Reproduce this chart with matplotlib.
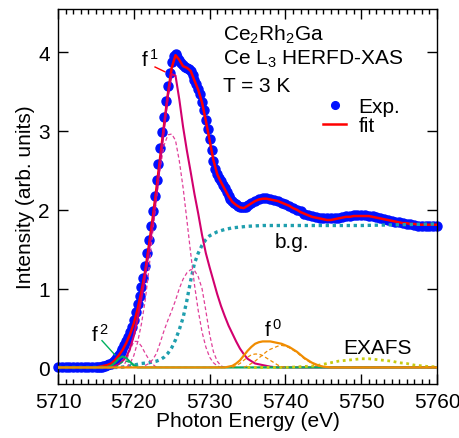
import matplotlib
matplotlib.use('Agg')
import matplotlib.pyplot as plt
from matplotlib.ticker import MultipleLocator

plt.rcParams['font.family'] = ['Liberation Sans', 'DejaVu Sans']
plt.rcParams['mathtext.fontset'] = 'custom'
plt.rcParams['mathtext.rm'] = 'Liberation Sans'
plt.rcParams['mathtext.it'] = 'Liberation Sans:italic'

# experimental data (Exp.)
exp_e = [5710.0, 5710.5, 5711.0, 5711.5, 5712.0, 5712.5, 5713.0, 5713.5, 5714.0, 5714.5,
         5715.0, 5715.25, 5715.5, 5715.75, 5716.0, 5716.25, 5716.5, 5716.75,
         5717.0, 5717.25, 5717.5, 5717.75, 5718.0, 5718.25, 5718.5, 5718.75,
         5719.0, 5719.25, 5719.5, 5719.75, 5720.0, 5720.25, 5720.5, 5720.75,
         5721.0, 5721.25, 5721.5, 5721.75, 5722.0, 5722.25, 5722.5, 5722.75,
         5723.0, 5723.25, 5723.5, 5723.75, 5724.0, 5724.25, 5724.5, 5724.75,
         5725.0, 5725.25, 5725.5, 5725.75, 5726.0, 5726.25, 5726.5, 5726.75,
         5727.0, 5727.25, 5727.5, 5727.75, 5728.0, 5728.25, 5728.5, 5728.75,
         5729.0, 5729.25, 5729.5, 5729.75, 5730.0, 5730.25, 5730.5, 5730.75,
         5731.0, 5731.25, 5731.5, 5731.75, 5732.0, 5732.25, 5732.5, 5732.75,
         5733.0, 5733.25, 5733.5, 5733.75, 5734.0, 5734.25, 5734.5, 5734.75,
         5735.0, 5735.5, 5736.0, 5736.5, 5737.0, 5737.5, 5738.0, 5738.5, 5739.0, 5739.5,
         5740.0, 5740.5, 5741.0, 5741.5, 5742.0, 5742.5, 5743.0, 5743.5, 5744.0, 5744.5,
         5745.0, 5745.5, 5746.0, 5746.5, 5747.0, 5747.5, 5748.0, 5748.5, 5749.0, 5749.5,
         5750.0, 5750.5, 5751.0, 5751.5, 5752.0, 5752.5, 5753.0, 5753.5, 5754.0, 5754.5,
         5755.0, 5755.5, 5756.0, 5756.5, 5757.0, 5757.5, 5758.0, 5758.5, 5759.0, 5759.5,
         5760.0]
exp_i = [0.00, 0.00, 0.00, 0.00, 0.00, 0.00, 0.00, 0.00, 0.00, 0.00,
         0.00, 0.00, 0.01, 0.01, 0.02, 0.02, 0.03, 0.04,
         0.05, 0.07, 0.10, 0.13, 0.16, 0.19, 0.23, 0.28,
         0.33, 0.39, 0.45, 0.51, 0.60, 0.70, 0.80, 0.91,
         1.02, 1.14, 1.29, 1.45, 1.62, 1.80, 1.98, 2.18,
         2.38, 2.58, 2.78, 2.98, 3.18, 3.38, 3.57, 3.74,
         3.87, 3.95, 3.97, 3.94, 3.90, 3.86, 3.83, 3.81,
         3.80, 3.78, 3.76, 3.71, 3.65, 3.59, 3.53, 3.47,
         3.37, 3.26, 3.14, 3.03, 2.90, 2.76, 2.62, 2.52,
         2.45, 2.40, 2.36, 2.31, 2.27, 2.22, 2.18, 2.14,
         2.11, 2.09, 2.07, 2.05, 2.04, 2.03, 2.03, 2.04,
         2.06, 2.08, 2.11, 2.13, 2.15, 2.15, 2.14, 2.12, 2.11, 2.09,
         2.07, 2.05, 2.02, 2.00, 1.98, 1.95, 1.93, 1.92, 1.91, 1.90,
         1.89, 1.89, 1.89, 1.89, 1.90, 1.91, 1.92, 1.92, 1.93, 1.93,
         1.93, 1.93, 1.92, 1.92, 1.91, 1.90, 1.88, 1.87, 1.86, 1.85,
         1.84, 1.83, 1.82, 1.82, 1.81, 1.80, 1.80, 1.80, 1.79, 1.79,
         1.79]

# total fit
fit_e = [5710.0, 5715.0, 5715.5, 5716.0, 5716.5, 5717.0, 5717.5, 5718.0, 5718.5, 5719.0, 5719.5,
         5720.0, 5720.5, 5721.0, 5721.5, 5722.0, 5722.5, 5723.0, 5723.5, 5724.0, 5724.5,
         5725.0, 5725.5, 5726.0, 5726.5, 5727.0, 5727.5, 5728.0, 5728.5, 5729.0, 5729.5,
         5730.0, 5730.5, 5731.0, 5731.5, 5732.0, 5732.5, 5733.0, 5733.5, 5734.0, 5734.5,
         5735.0, 5735.5, 5736.0, 5736.5, 5737.0, 5737.5, 5738.0, 5738.5, 5739.0, 5739.5,
         5740.0, 5740.5, 5741.0, 5741.5, 5742.0, 5742.5, 5743.0, 5743.5, 5744.0, 5744.5,
         5745.0, 5745.5, 5746.0, 5746.5, 5747.0, 5747.5, 5748.0, 5748.5, 5749.0, 5749.5,
         5750.0, 5750.5, 5751.0, 5751.5, 5752.0, 5752.5, 5753.0, 5753.5, 5754.0, 5754.5,
         5755.0, 5755.5, 5756.0, 5756.5, 5757.0, 5757.5, 5758.0, 5758.5, 5759.0, 5759.5,
         5760.0]
fit_i = [0.00, 0.00, 0.01, 0.02, 0.03, 0.05, 0.09, 0.15, 0.22, 0.31, 0.42,
         0.56, 0.74, 0.96, 1.22, 1.55, 1.90, 2.28, 2.68, 3.08, 3.47,
         3.80, 3.96, 3.90, 3.82, 3.80, 3.76, 3.64, 3.52, 3.36, 3.13,
         2.88, 2.63, 2.45, 2.35, 2.26, 2.17, 2.10, 2.06, 2.03, 2.02,
         2.05, 2.08, 2.11, 2.13, 2.14, 2.14, 2.13, 2.12, 2.11, 2.09,
         2.07, 2.05, 2.02, 2.00, 1.97, 1.95, 1.93, 1.91, 1.90, 1.89,
         1.88, 1.87, 1.87, 1.88, 1.89, 1.90, 1.91, 1.91, 1.92, 1.92,
         1.92, 1.92, 1.92, 1.91, 1.90, 1.89, 1.88, 1.87, 1.86, 1.85,
         1.84, 1.83, 1.83, 1.82, 1.82, 1.81, 1.81, 1.81, 1.81, 1.81,
         1.81]

# background (b.g.)
bg_e = [5710, 5718, 5719, 5720, 5721, 5722, 5722.5, 5723, 5723.5, 5724, 5724.5,
        5725, 5725.5, 5726, 5726.5, 5727, 5727.5, 5728, 5728.5, 5729, 5729.5,
        5730, 5731, 5732, 5733, 5734, 5735, 5737, 5740, 5745, 5750, 5755, 5760]
bg_i = [0.00, 0.00, 0.01, 0.03, 0.05, 0.06, 0.07, 0.08, 0.10, 0.13, 0.18,
        0.25, 0.35, 0.48, 0.63, 0.85, 1.10, 1.32, 1.45, 1.55, 1.62,
        1.67, 1.72, 1.75, 1.77, 1.78, 1.79, 1.80, 1.80, 1.80, 1.80, 1.81, 1.82]

# f1 total and its components
f1_e = [5710, 5717, 5717.5, 5718, 5718.5, 5719, 5719.5, 5720, 5720.5, 5721, 5721.5,
        5722, 5722.5, 5723, 5723.5, 5724, 5724.5, 5725, 5725.5, 5726, 5726.5,
        5727, 5727.5, 5728, 5728.5, 5729, 5729.5, 5730, 5730.5, 5731, 5731.5,
        5732, 5732.5, 5733, 5733.5, 5734, 5734.5, 5735, 5735.5, 5736, 5737,
        5738, 5739, 5760]
f1_i = [0.00, 0.00, 0.02, 0.04, 0.08, 0.13, 0.24, 0.40, 0.62, 0.88, 1.17,
        1.48, 1.82, 2.20, 2.62, 3.05, 3.45, 3.72, 3.70, 3.40, 3.05,
        2.75, 2.48, 2.20, 1.95, 1.68, 1.45, 1.27, 1.10, 0.93, 0.78,
        0.65, 0.53, 0.43, 0.33, 0.24, 0.17, 0.11, 0.08, 0.05, 0.03,
        0.01, 0.00, 0.00]
f1a_e = [5710, 5719, 5719.5, 5720, 5720.5, 5721, 5721.5, 5722, 5722.5, 5723, 5723.5,
         5724, 5724.5, 5725, 5725.5, 5726, 5726.5, 5727, 5727.5, 5728, 5728.5,
         5729, 5729.5, 5730, 5730.5, 5731, 5731.5, 5760]
f1a_i = [0.00, 0.00, 0.05, 0.15, 0.32, 0.55, 0.85, 1.25, 1.72, 2.15, 2.55,
         2.82, 2.95, 2.96, 2.88, 2.62, 2.28, 1.87, 1.45, 1.05, 0.72,
         0.45, 0.26, 0.13, 0.06, 0.02, 0.00, 0.00]
f1b_e = [5710, 5721, 5722, 5722.5, 5723, 5723.5, 5724, 5724.5, 5725, 5725.5, 5726,
         5726.5, 5727, 5727.5, 5728, 5728.5, 5729, 5729.5, 5730, 5730.5, 5731,
         5731.5, 5732, 5760]
f1b_i = [0.00, 0.00, 0.05, 0.10, 0.18, 0.32, 0.47, 0.60, 0.72, 0.85, 1.00,
         1.12, 1.20, 1.24, 1.23, 1.15, 1.00, 0.72, 0.42, 0.20, 0.08,
         0.02, 0.00, 0.00]
f1c_e = [5710, 5718.5, 5719, 5719.5, 5720, 5720.5, 5721, 5721.5, 5722, 5722.5, 5723, 5760]
f1c_i = [0.00, 0.00, 0.08, 0.22, 0.33, 0.33, 0.27, 0.18, 0.10, 0.04, 0.00, 0.00]

# f2
f2_e = [5710, 5716.5, 5717, 5717.5, 5718, 5718.5, 5719, 5719.5, 5720, 5720.5, 5760]
f2_i = [0.00, 0.00, 0.02, 0.06, 0.11, 0.14, 0.12, 0.07, 0.03, 0.00, 0.00]
f2a_e = [5717.5, 5718, 5718.5, 5719, 5719.5, 5720, 5720.5]
f2a_i = [0.00, 0.03, 0.07, 0.08, 0.06, 0.02, 0.00]

# f0 total and its components
f0_e = [5710, 5732, 5733, 5733.5, 5734, 5734.5, 5735, 5735.5, 5736, 5736.5, 5737,
        5737.5, 5738, 5738.5, 5739, 5739.5, 5740, 5740.5, 5741, 5741.5, 5742,
        5742.5, 5743, 5743.5, 5744, 5744.5, 5745, 5746, 5760]
f0_i = [0.00, 0.00, 0.02, 0.05, 0.09, 0.15, 0.21, 0.26, 0.30, 0.32, 0.33,
        0.33, 0.33, 0.32, 0.31, 0.30, 0.28, 0.26, 0.23, 0.20, 0.16,
        0.12, 0.09, 0.06, 0.04, 0.02, 0.01, 0.00, 0.00]
f0a_e = [5733, 5734, 5734.5, 5735, 5735.5, 5736, 5736.5, 5737, 5737.5, 5738, 5738.5,
         5739, 5739.5, 5740]
f0a_i = [0.00, 0.05, 0.09, 0.13, 0.16, 0.17, 0.17, 0.15, 0.12, 0.09, 0.06,
         0.03, 0.01, 0.00]
f0b_e = [5734.5, 5735, 5735.5, 5736, 5736.5, 5737, 5737.5, 5738, 5738.5, 5739, 5739.5,
         5740, 5740.5, 5741, 5741.5, 5742, 5742.5, 5743, 5743.5, 5744, 5744.5,
         5745, 5746]
f0b_i = [0.00, 0.02, 0.05, 0.08, 0.12, 0.16, 0.20, 0.23, 0.25, 0.27, 0.28,
         0.27, 0.25, 0.22, 0.19, 0.15, 0.11, 0.08, 0.05, 0.03, 0.02,
         0.01, 0.00]

# EXAFS
exafs_e = [5735, 5740, 5742, 5744, 5745, 5746, 5747, 5748, 5749, 5750, 5751, 5752,
           5753, 5754, 5755, 5756, 5757, 5758, 5759, 5760]
exafs_i = [0.00, 0.00, 0.01, 0.02, 0.04, 0.06, 0.08, 0.09, 0.10, 0.11, 0.11, 0.10,
           0.09, 0.08, 0.06, 0.05, 0.03, 0.02, 0.01, 0.01]

c_f1 = '#d2006e'
c_f1d = '#e0409a'
c_bg = '#1f9fae'
c_f0 = '#f08c00'
c_f2 = '#00b060'
c_ex = '#c8cc10'

fig = plt.figure(figsize=(4.59, 4.39), dpi=100)
ax = fig.add_axes([0.1264, 0.123, 0.8257, 0.855])

ax.plot(exp_e, exp_i, 'o', color='#0010ff', ms=6.5, mec='#0010ff', clip_on=False,
        label='Exp.', zorder=2)
ax.plot(fit_e, fit_i, '-', color='#ff0000', lw=1.8, label='fit', zorder=3)

ax.plot(bg_e, bg_i, color=c_bg, lw=2.4, ls=(0, (1, 1.1)), zorder=4)
ax.plot(f1a_e, f1a_i, color=c_f1d, lw=0.9, ls=(0, (3, 2)), zorder=4)
ax.plot(f1b_e, f1b_i, color=c_f1d, lw=0.9, ls=(0, (3, 2)), zorder=4)
ax.plot(f1c_e, f1c_i, color=c_f1d, lw=0.9, ls=(0, (3, 2)), zorder=4)
ax.plot(f1_e, f1_i, color=c_f1, lw=1.5, zorder=5)
ax.plot(f2a_e, f2a_i, color=c_f2, lw=0.9, ls=(0, (3, 2)), zorder=5)
ax.plot(f2_e, f2_i, color=c_f2, lw=1.5, zorder=5)
ax.plot(exafs_e, exafs_i, color=c_ex, lw=2.0, ls=(0, (1, 1.3)), zorder=5)
ax.plot(f0a_e, f0a_i, color=c_f0, lw=0.9, ls=(0, (3, 2)), zorder=6)
ax.plot(f0b_e, f0b_i, color=c_f0, lw=0.9, ls=(0, (3, 2)), zorder=6)
ax.plot(f0_e, f0_i, color=c_f0, lw=1.6, zorder=7)

# labels and leader lines
ax.plot([5722.8, 5724.1], [3.81, 3.75], color='#ff0000', lw=1.0, zorder=6)
ax.plot([5715.8, 5717.5], [0.34, 0.16], color=c_f2, lw=1.0, zorder=6)
fs = 15
ax.text(5720.9, 3.83, r'f$^{\,1}$', fontsize=fs, va='baseline')
ax.text(5714.3, 0.335, r'f$^{\,2}$', fontsize=fs, va='baseline')
ax.text(5737.2, 0.40, r'f$^{\,0}$', fontsize=fs, va='baseline')
ax.text(5747.6, 0.18, 'EXAFS', fontsize=fs, va='baseline')
ax.text(5738.6, 1.53, 'b.g.', fontsize=fs, va='baseline')
ax.text(5731.8, 4.23, r'Ce$_2$Rh$_2$Ga', fontsize=fs, va='center')
ax.text(5731.8, 3.915, r'Ce L$_3$ HERFD-XAS', fontsize=fs, va='center')
ax.text(5731.8, 3.57, 'T = 3 K', fontsize=fs, va='center')

ax.legend(loc='upper left', bbox_to_anchor=(0.70, 0.765), frameon=False, fontsize=fs,
          numpoints=1, markerscale=0.85, handlelength=1.1, handletextpad=0.6,
          labelspacing=0.0, borderpad=0, borderaxespad=0)

ax.set_xlim(5710, 5760)
ax.set_ylim(-0.21, 4.55)
ax.xaxis.set_major_locator(MultipleLocator(10))
ax.xaxis.set_minor_locator(MultipleLocator(1))
ax.yaxis.set_major_locator(MultipleLocator(1))
ax.tick_params(which='both', direction='in', top=True, right=True, labelsize=fs, width=1.0)
ax.tick_params(which='major', length=7, pad=6)
ax.tick_params(which='minor', length=3.5)
for sp in ax.spines.values():
    sp.set_linewidth(1.0)
ax.set_xlabel('Photon Energy (eV)', fontsize=fs, labelpad=0)
ax.set_ylabel('Intensity (arb. units)', fontsize=fs, labelpad=2)

fig.savefig('out.png', dpi=100)
